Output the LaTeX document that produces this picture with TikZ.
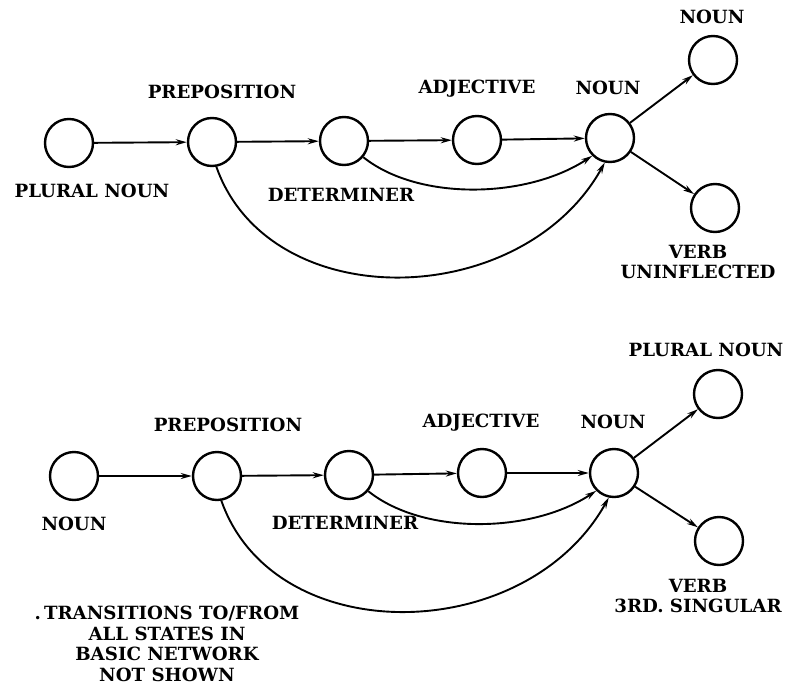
\documentclass[tikz,border=0pt]{standalone}
\usepackage{fontspec}
\setmainfont{DejaVu Serif}
\usetikzlibrary{arrows.meta}
\begin{document}
\begin{tikzpicture}[x=1pt,y=-1pt,
  state/.style={circle,draw,line width=2.4pt,minimum size=48pt,inner sep=0pt},
  lab/.style={font=\fontsize{18.2}{20.5}\selectfont\bfseries,align=center,inner sep=0pt},
  arr/.style={line width=1.9pt,-{Stealth[length=11pt,width=6pt]}}]
\useasboundingbox (0,0) rectangle (787,688);
% top network
\node[state] (a1) at (69,143) {};
\node[state] (a2) at (212,142) {};
\node[state] (a3) at (344,141) {};
\node[state] (a4) at (477,140) {};
\node[state] (a5) at (610,138) {};
\node[state] (a6) at (713,60) {};
\node[state] (a7) at (715,208) {};
\node[lab] (la1) at (92,191) {PLURAL NOUN};
\node[lab] (la2) at (222,92) {PREPOSITION};
\node[lab] (la3) at (341,195) {DETERMINER};
\node[lab] (la4) at (477,89) {ADJECTIVE};
\node[lab] (la5) at (608,88) {NOUN};
\node[lab] (la6) at (712,17) {NOUN};
\node[lab] (la7) at (698,262) {VERB\\UNINFLECTED};
\draw[arr] (a1) -- (a2);
\draw[arr] (a2) -- (a3);
\draw[arr] (a3) -- (a4);
\draw[arr] (a4) -- (a5);
\draw[arr] (a5) -- (a6);
\draw[arr] (a5) -- (a7);
\draw[arr] (a3.-40) .. controls +(55,44) and +(-65,43) .. (a5.-135);
\draw[arr] (a2.-80) .. controls +(53,150) and +(-83,149) .. (a5.-102);
% bottom network
\node[state] (b1) at (74,476) {};
\node[state] (b2) at (217,476) {};
\node[state] (b3) at (349,475) {};
\node[state] (b4) at (482,473) {};
\node[state] (b5) at (614,473) {};
\node[state] (b6) at (718,394) {};
\node[state] (b7) at (719,541) {};
\node[lab] (lb1) at (74,524) {NOUN};
\node[lab] (lb2) at (228,425) {PREPOSITION};
\node[lab] (lb3) at (345,523) {DETERMINER};
\node[lab] (lb4) at (481,423) {ADJECTIVE};
\node[lab] (lb5) at (613,422) {NOUN};
\node[lab] (lb6) at (706,350) {PLURAL NOUN};
\node[lab] (lb7) at (698,596) {VERB\\3RD. SINGULAR};
\node[lab] (note) at (167,644) {.\,TRANSITIONS TO/FROM\\ALL STATES IN\\BASIC NETWORK\\NOT SHOWN};
\draw[arr] (b1) -- (b2);
\draw[arr] (b2) -- (b3);
\draw[arr] (b3) -- (b4);
\draw[arr] (b4) -- (b5);
\draw[arr] (b5) -- (b6);
\draw[arr] (b5) -- (b7);
\draw[arr] (b3.-40) .. controls +(55,44) and +(-65,43) .. (b5.-135);
\draw[arr] (b2.-80) .. controls +(53,150) and +(-83,149) .. (b5.-102);
\end{tikzpicture}
\end{document}
